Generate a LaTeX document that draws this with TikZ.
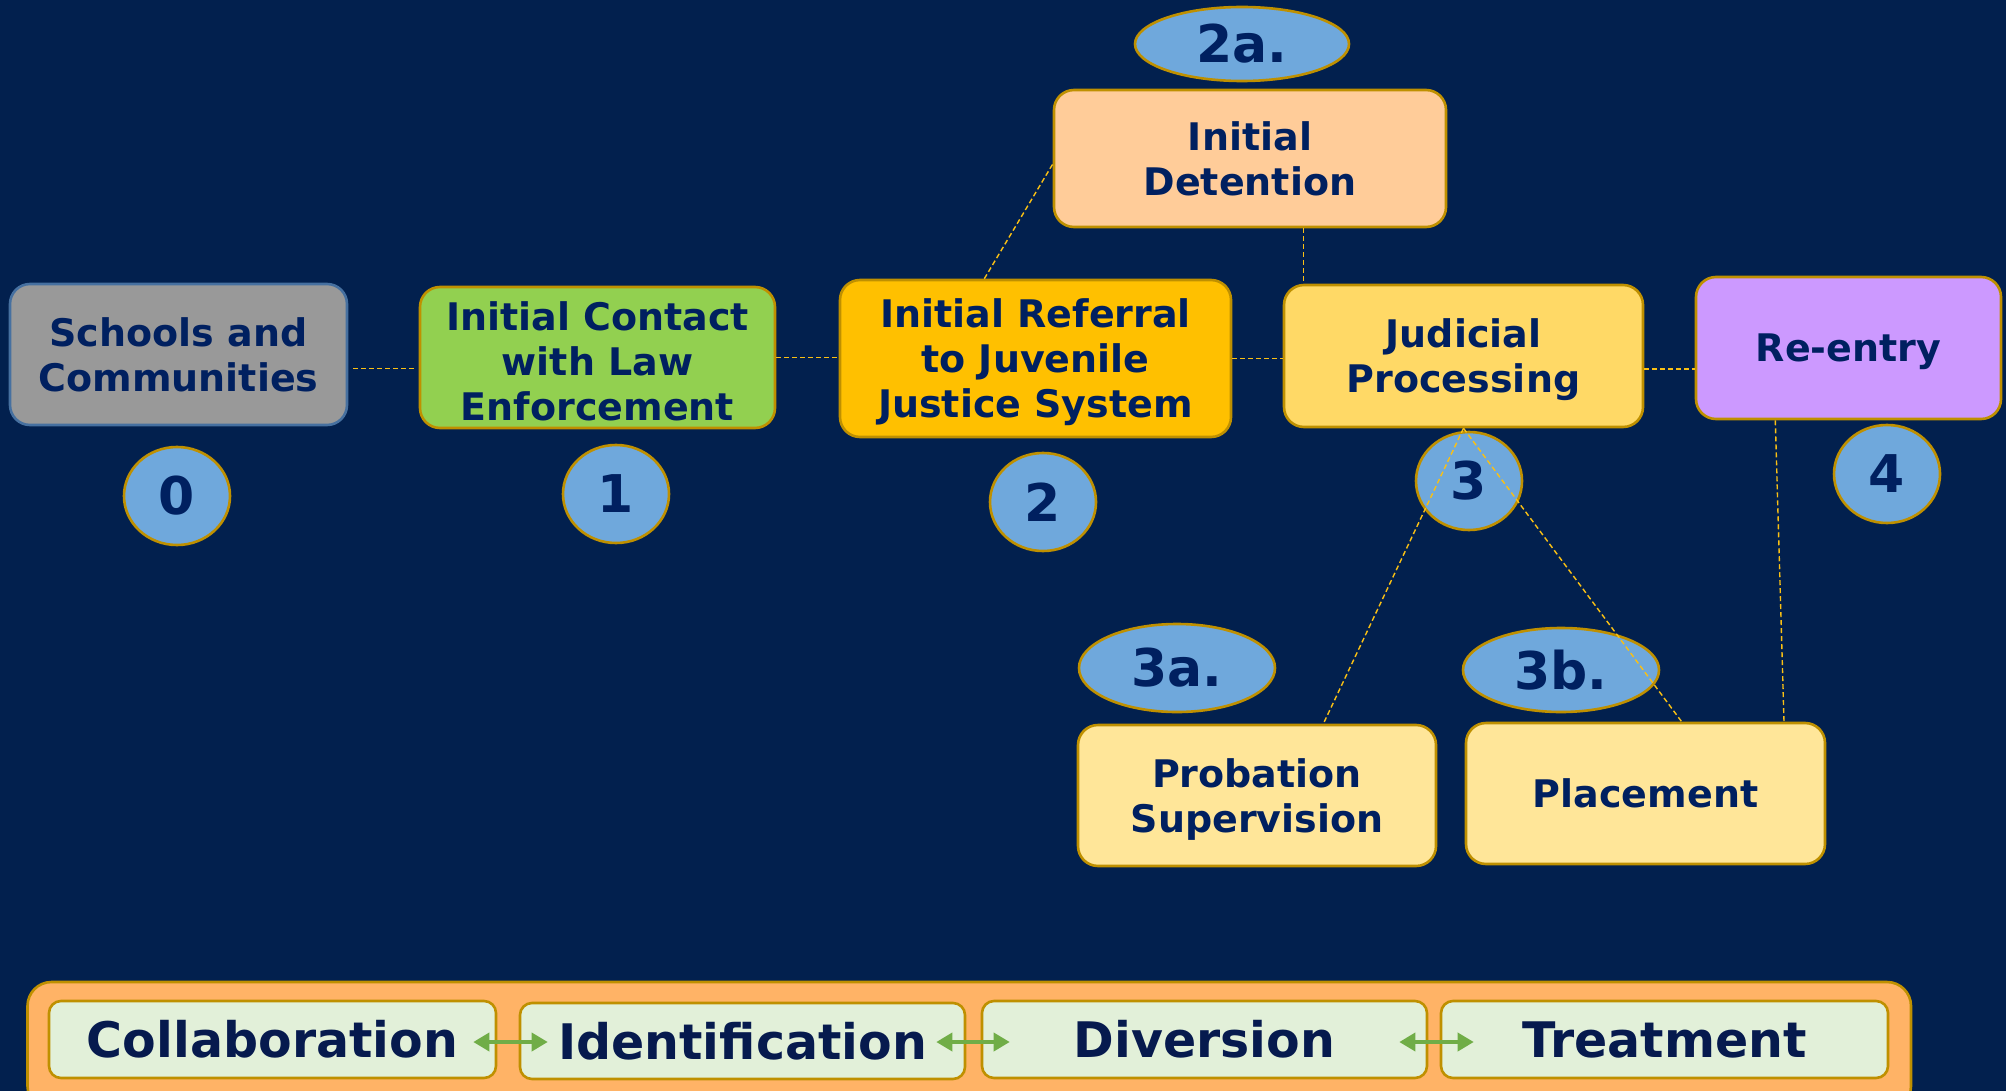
\documentclass[tikz,border=0pt]{standalone}
\usepackage{fontspec}
\setmainfont{DejaVu Sans}
\usetikzlibrary{shapes.geometric,calc,arrows.meta}
\definecolor{bg}{RGB}{2,32,78}
\definecolor{navytxt}{RGB}{0,32,96}
\definecolor{darktxt}{RGB}{6,26,78}
\definecolor{goldb}{RGB}{191,144,0}
\definecolor{steelb}{RGB}{70,112,160}
\definecolor{grayf}{RGB}{153,153,153}
\definecolor{greenf}{RGB}{146,208,80}
\definecolor{ambf}{RGB}{255,192,0}
\definecolor{judf}{RGB}{255,217,102}
\definecolor{purf}{RGB}{204,153,255}
\definecolor{detf}{RGB}{255,204,153}
\definecolor{litef}{RGB}{255,230,153}
\definecolor{ellf}{RGB}{111,168,220}
\definecolor{dashc}{RGB}{250,192,20}
\definecolor{bandf}{RGB}{255,179,102}
\definecolor{paleg}{RGB}{226,240,217}
\definecolor{arrowg}{RGB}{112,173,71}
\newcommand{\lowstrut}{\rule{0pt}{18pt}}
\begin{document}
\begin{tikzpicture}[x=0.5pt,y=-0.5pt,
  stagebox/.style={draw=goldb, line width=1.3pt, rounded corners=10pt, align=center, text=navytxt, inner sep=0pt, font=\fontsize{19pt}{22.5pt}\selectfont\bfseries},
  numell/.style={ellipse, draw=goldb, line width=1.3pt, fill=ellf, inner sep=0pt, text=navytxt, font=\fontsize{26pt}{30pt}\selectfont\bfseries},
  link/.style={draw=dashc, line width=0.7pt, dash pattern=on 2.5pt off 1.5pt},
  phase/.style={draw=goldb, line width=1.3pt, fill=paleg, rounded corners=6pt, inner sep=0pt, text=darktxt, minimum height=38.5pt, font=\fontsize{24.5pt}{28pt}\selectfont\bfseries},
  twoway/.style={draw=arrowg, line width=1.8pt, {Triangle[length=8pt,width=9pt]}-{Triangle[length=8pt,width=9pt]}}
]
\useasboundingbox (0,0) rectangle (2006,1091);
\clip (0,0) rectangle (2006,1091);
\fill[bg] (0,0) rectangle (2006,1091);

% stage boxes
\node[stagebox, draw=steelb, fill=grayf, minimum width=168.5pt, minimum height=70.5pt] (sch) at (178.5,354.5) {Schools and\\Communities};
\node[stagebox, fill=greenf, minimum width=177.5pt, minimum height=70.5pt] (con) at (597.5,357.5) {\lowstrut Initial Contact\\with Law\\Enforcement};
\node[stagebox, fill=ambf, minimum width=195.5pt, minimum height=78.5pt] (ref) at (1035.5,358.5) {\lowstrut Initial Referral\\to Juvenile\\Justice System};
\node[stagebox, fill=judf, minimum width=179.5pt, minimum height=71pt] (jud) at (1463.5,356) {\lowstrut Judicial\\Processing};
\node[stagebox, fill=purf, minimum width=152.5pt, minimum height=71pt] (re) at (1848.5,348) {\lowstrut Re-entry};
\node[stagebox, fill=detf, minimum width=196pt, minimum height=68.5pt] (det) at (1250,158.5) {Initial\\Detention};
\node[stagebox, fill=litef, minimum width=179pt, minimum height=70.5pt] (pro) at (1257,795.5) {\lowstrut Probation\\Supervision};
\node[stagebox, fill=litef, minimum width=179.5pt, minimum height=70.5pt] (pla) at (1645.5,793.5) {Placement};

% number ellipses
\node[numell, minimum width=53pt, minimum height=49pt] (n0) at (177,496) {0};
\node[numell, minimum width=53pt, minimum height=49pt] (n1) at (616,494) {1};
\node[numell, minimum width=53pt, minimum height=49pt] (n2) at (1043,502) {2};
\node[numell, minimum width=53pt, minimum height=49pt] (n3) at (1469,481) {3};
\node[numell, minimum width=53pt, minimum height=49pt] (n4) at (1887,474) {4};
\node[numell, minimum width=107pt, minimum height=37pt] (n2a) at (1242,44) {2a.};
\node[numell, minimum width=98pt, minimum height=44pt] (n3a) at (1177,668) {3a.};
\node[numell, minimum width=98pt, minimum height=42pt] (n3b) at (1561,670) {3b.};

% dashed links
\draw[link] ($(sch.east)+(5,14)$) -- ($(con.west)+(-3,11)$);
\draw[link] (con.east) -- (con.east -| ref.west);
\draw[link] (ref.east) -- (ref.east -| jud.west);
\draw[link] ($(jud.east)+(0,13)$) -- ($(re.west)+(0,21)$);
\draw[link] ($(ref.north west)!0.37!(ref.north east)$) -- ($(det.north west)!0.54!(det.south west)$);
\coordinate (dd) at ($(det.south west)!0.635!(det.south east)$);
\draw[link] (dd) -- (dd |- jud.north);
\draw[link] (jud.south) -- ($(pro.north west)!0.684!(pro.north east)$);
\draw[link] (jud.south) -- ($(pla.north west)!0.6!(pla.north east)$);
\draw[link] ($(re.south west)!0.262!(re.south east)$) -- ($(pla.north west)!0.883!(pla.north east)$);

% bottom band
\node[draw=goldb, line width=1.3pt, fill=bandf, rounded corners=12pt, minimum width=941.75pt, minimum height=64pt, inner sep=0pt] (band) at (969.25,1046) {};
\node[phase, minimum width=223.5pt] (col) at (272.5,1039.5) {Collaboration};
\node[phase, minimum width=222.5pt, minimum height=38pt] (idn) at (742.5,1041) {Identification};
\node[phase, minimum width=222.5pt] (div) at (1204.5,1039.5) {Diversion};
\node[phase, minimum width=223.5pt] (tre) at (1664.5,1039.5) {Treatment};
\draw[twoway] ($(col.east)+(-24,2.5)$) -- ($(idn.west)+(29,1)$);
\draw[twoway] ($(idn.east)+(-30,1)$) -- ($(div.west)+(29,2.5)$);
\draw[twoway] ($(div.east)+(-29,2.5)$) -- ($(tre.west)+(34,2.5)$);
\end{tikzpicture}
\end{document}
